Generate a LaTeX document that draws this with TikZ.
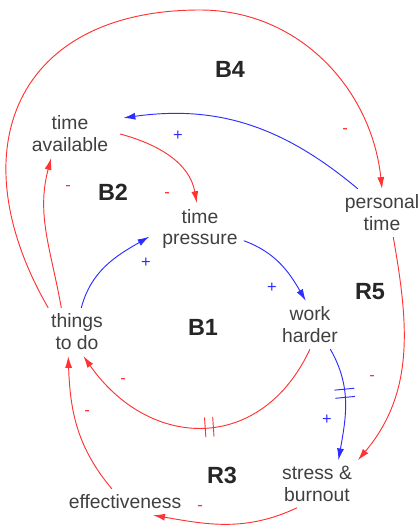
\documentclass[tikz,border=0pt]{standalone}
\usepackage{fontspec}
\setmainfont{Liberation Sans}
\usetikzlibrary{
    arrows.meta,         % For arrow tips
    decorations.markings,% For the delay marks
    calc                 % For coordinate calculations
}
\definecolor{linkred}{RGB}{255,51,51}
\definecolor{linkblue}{RGB}{45,45,255}
\definecolor{vartext}{RGB}{64,64,64}

\begin{document}
\begin{tikzpicture}[
    x=0.03cm, y=0.03cm,
    >={Latex[length=10pt,width=6pt]}, % Set default arrow tip style
    var/.style={align=center, text=vartext, inner sep=5pt,
        font=\fontsize{16.5}{18.7}\selectfont}, % Style for variables
    loopname/.style={font=\fontsize{20}{22}\selectfont\bfseries, text=black!85},
    sgn/.style={font=\fontsize{14}{16}\selectfont, inner sep=0pt},
    nlink/.style={->, line width=0.8pt, linkred},  % negative link
    plink/.style={->, line width=0.8pt, linkblue}, % positive link
    % Style for placing a delay mark on a link
    delay/.style={
        decoration={markings, mark=at position #1 with {
            \draw[-, line width=0.8pt] (-3.5pt,-8.5pt) -- (-3.5pt,8.5pt);
            \draw[-, line width=0.8pt] (3.5pt,-8.5pt) -- (3.5pt,8.5pt);}},
        postaction={decorate}
    }
]
    \useasboundingbox (0,0) rectangle (419,530);
    \clip (0,0) rectangle (419,530);

    % Variables
    \node[var] (tavail) at (70,396) {time\\available};
    \node[var] (tpress) at (200,301) {time\\pressure};
    \node[var] (ptime) at (382,317) {personal\\time};
    \node[var] (work) at (310,205) {work\\harder};
    \node[var] (things) at (77,198) {things\\to do};
    \node[var] (stress) at (317,46) {stress \&\\burnout};
    \node[var] (effect) at (125,28) {effectiveness};

    % Loop B4 (outer arc)
    \coordinate (b4top) at (200,520);
    \draw[nlink] (things.140) to[out=120,in=180,looseness=1.4] (b4top)
        to[out=0,in=96] (ptime.north);

    % Other links
    \draw[nlink] (things.123) to[out=100,in=-105] (tavail.232);
    \draw[nlink] ([xshift=5pt]tavail.east) to[out=-15,in=100] (tpress.97);
    \draw[plink] (ptime.135) to[out=140,in=8] ([xshift=8pt]tavail.20);
    \draw[plink] (things.80) to[out=75,in=-150] ([xshift=-6pt]tpress.190);
    \draw[plink] (tpress.-15) to[out=-20,in=120] (work.100);
    \draw[nlink, delay=0.47] (work.south) to[out=-115,in=-55,looseness=1.3] (things.-75);
    \draw[plink, delay=0.41] (work.-50) to[out=-60,in=80] (stress.48);
    \draw[nlink] (ptime.-65) to[out=-80,in=50] (stress.north east);
    \draw[nlink] (effect.135) to[out=130,in=-88] (things.-110);
    \draw[nlink] (stress.-130) to[out=-155,in=-10] (effect.-25);

    % Polarities
    \node[sgn, linkred] (s1) at (345,399) {-};
    \node[sgn, linkred] (s2) at (68,342) {-};
    \node[sgn, linkred] (s3) at (167,335) {-};
    \node[sgn, linkblue] (s4) at (178,394) {+};
    \node[sgn, linkblue] (s5) at (146,267) {+};
    \node[sgn, linkblue] (s6) at (272,242) {+};
    \node[sgn, linkred] (s7) at (123,149) {-};
    \node[sgn, linkblue] (s8) at (327,110) {+};
    \node[sgn, linkred] (s9) at (372,152) {-};
    \node[sgn, linkred] (s10) at (87,117) {-};
    \node[sgn, linkred] (s11) at (200,22) {-};

    % Loop names
    \node[loopname] (B4) at (230,461) {B4};
    \node[loopname] (B2) at (113,338) {B2};
    \node[loopname] (R5) at (370,238) {R5};
    \node[loopname] (B1) at (203,203) {B1};
    \node[loopname] (R3) at (222,55) {R3};

\end{tikzpicture}
\end{document}
